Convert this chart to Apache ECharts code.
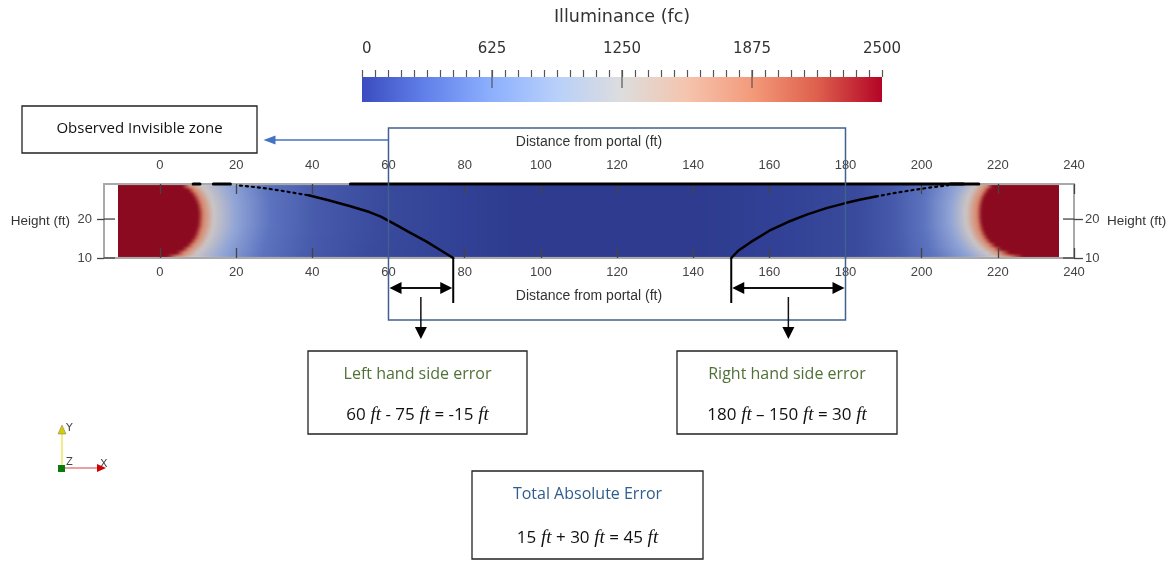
<!DOCTYPE html>
<html>
<head>
<meta charset="utf-8">
<script src="https://cdn.jsdelivr.net/npm/echarts@6.0.0/dist/echarts.min.js"></script>
<style>
  html, body { margin: 0; padding: 0; background: #fff; }
  #wrap { position: relative; width: 1175px; height: 561px; }
  #fieldClip { position: absolute; overflow: hidden; }
  #field { position: absolute; width: 1175px; height: 561px; filter: blur(1.3px); }
  #chart { position: absolute; left: 0; top: 0; width: 1175px; height: 561px; }
</style>
</head>
<body>
<div id="wrap">
  <div id="fieldClip"><div id="field"></div></div>
  <div id="chart"></div>
</div>
<script>
// ---- data ----
var distanceTicks = [0, 20, 40, 60, 80, 100, 120, 140, 160, 180, 200, 220, 240];
var heightTicks = [10, 20];
var illumRange = [0, 2500];
var illumLongTicks = [625, 1250, 1875];
var fieldExtent = [-11, 236];               // ft, where the coloured tunnel starts / ends
var bandEdges = [10, 11, 12, 13, 14, 15, 16, 17, 18, 19, 20, 21, 22, 23, 24, 25, 26, 27, 28, 29];
var isoLevels = [2500, 1900, 1250, 800, 400, 200, 100, 40, 10]; // fc
// x (ft) where each iso level is reached, one row per 1 ft height band (bottom to top), left portal
var leftIsolines = [
  [2.5, 5.0, 9.5, 17, 27, 40, 55, 75, 95],
  [5.0, 7.0, 10.5, 17.5, 27.5, 40, 55, 75, 95],
  [6.5, 8.3, 11.5, 18, 28, 41, 56, 75, 95],
  [7.7, 9.4, 12.3, 18.5, 28, 41, 56, 75, 95],
  [8.6, 10.2, 13, 19, 28.5, 41, 57, 75, 95],
  [9.3, 10.9, 13.5, 19.5, 28.5, 41.5, 57, 75, 95],
  [9.8, 11.3, 14, 20, 29, 42, 57, 75, 95],
  [10.1, 11.6, 14.3, 20.3, 29, 42, 58, 75, 95],
  [10.4, 11.9, 14.5, 20.5, 29.5, 42, 58, 75, 95],
  [10.5, 12, 14.6, 20.5, 29.5, 42, 58, 75, 95],
  [10.6, 12.1, 14.7, 20.5, 29.5, 42, 58, 75, 95],
  [10.6, 12.1, 14.7, 20.5, 29.5, 42, 58, 75, 95],
  [10.5, 12, 14.6, 20.5, 29.5, 42, 58, 75, 95],
  [10.3, 11.8, 14.4, 20.5, 29.5, 42, 58, 75, 95],
  [10.0, 11.5, 14.2, 20.3, 29.5, 42, 58, 75, 95],
  [9.5, 11.1, 13.8, 20, 29.5, 42, 58, 75, 95],
  [8.9, 10.5, 13.3, 19.8, 29, 42, 58, 75, 95],
  [8.0, 9.7, 12.6, 19.5, 29, 42, 58, 75, 95],
  [6.5, 8.4, 11.6, 19, 28.5, 42, 58, 75, 95]
];
// same for the right portal (x decreasing)
var rightIsolines = [
  [226, 222.5, 218, 212, 202.5, 193, 183, 168, 140],
  [222.5, 220, 216.5, 211, 202, 193, 183, 168, 140],
  [220.3, 218.3, 215, 210, 201.5, 193, 183, 168, 140],
  [218.8, 217, 214, 209.3, 201, 192.5, 183, 168, 140],
  [217.6, 216, 213.2, 208.7, 201, 192.5, 183, 168, 140],
  [216.8, 215.3, 212.5, 208.2, 200.5, 192, 183, 168, 140],
  [216.2, 214.8, 212, 207.8, 200.5, 192, 183, 168, 140],
  [215.8, 214.4, 211.6, 207.5, 200, 192, 183, 168, 140],
  [215.5, 214.2, 211.3, 207.2, 200, 192, 183, 168, 140],
  [215.3, 214, 211.1, 207, 200, 192, 183, 168, 140],
  [215.2, 213.9, 211, 207, 200, 192, 183, 168, 140],
  [215.2, 213.9, 211, 207, 200, 192, 183, 168, 140],
  [215.2, 213.9, 211, 207, 200, 192, 183, 168, 140],
  [215.3, 214, 211.1, 207, 200, 192, 183, 168, 140],
  [215.5, 214.2, 211.3, 207.2, 200, 192, 183, 168, 140],
  [215.8, 214.5, 211.6, 207.5, 200, 192, 183, 168, 140],
  [216.3, 215, 212, 207.8, 200.5, 192, 183, 168, 140],
  [217, 215.6, 212.6, 208.2, 200.5, 192, 183, 168, 140],
  [218, 216.5, 213.3, 208.6, 201, 192, 183, 168, 140]
];
// black threshold line (distance ft, height ft)
var leftCurveDotted = [[21, 28.6], [27, 28.0], [33, 27.1], [39, 26.1]];
var leftCurve = [[39, 26.1], [44, 24.9], [50, 23.3], [55, 21.8], [58, 20.6], [62, 18.5], [66, 16.3], [70, 14.2], [74, 11.8], [77, 10]];
var rightCurve = [[150, 10], [152, 12], [155, 14], [160, 17], [165, 19.3], [170, 21.2], [175, 22.8], [180, 24.1], [184, 25], [188, 25.8]];
var rightCurveDotted = [[188, 25.8], [193, 26.7], [198, 27.5], [203, 28.2], [207, 28.7]];
var ceilingLine = [[50, 29], [215, 29]];
var ceilingDashes = [[[8.7, 29], [10.5, 29]], [[14, 29], [18.5, 29]], [[207.5, 29], [211, 29]]];
// observed invisible zone and detected ends (ft)
var invisibleZone = [60, 180];
var detectedEnds = [77, 150];

// ---- styling ----
var levelColors = ['#8b0a1f', '#d8866a', '#cbc5c5', '#90a4d6', '#5c73bf', '#4659aa', '#3a4b9d', '#334397', '#2e3b8f'];
var coolWarm = ['#3b4cc0', '#6282ea', '#8db0fe', '#b8d0f9', '#dddddd', '#f5c4ad', '#f49a7b', '#de604d', '#b40426'];
var tickFont = 'Liberation Sans';
var titleFont = 'DejaVu Sans';
var boxFont = 'Open Sans';
var mainGrid = { left: 104, top: 184, width: 970, height: 74 };
var distRange = [-14.7, 240];
var heightRange = [10, 29];

var fieldChart = echarts.init(document.getElementById('field'));
var chart = echarts.init(document.getElementById('chart'));

function curveSeries(data, dotted, width) {
  return {
    type: 'line', xAxisIndex: 0, yAxisIndex: 0, data: data, showSymbol: false, symbol: 'none',
    clip: false, silent: true, z: 5,
    lineStyle: { color: '#000', width: width || 2.5, type: dotted ? [2, 4] : 'solid', cap: 'round' }
  };
}

function arrowHead(tipX, tipY, dir, len, half, color) {
  var pts;
  if (dir === 'left') pts = [[tipX, tipY], [tipX + len, tipY - half], [tipX + len, tipY + half]];
  else if (dir === 'right') pts = [[tipX, tipY], [tipX - len, tipY - half], [tipX - len, tipY + half]];
  else if (dir === 'down') pts = [[tipX, tipY], [tipX - half, tipY - len], [tipX + half, tipY - len]];
  else pts = [[tipX, tipY], [tipX - half, tipY + len], [tipX + half, tipY + len]];
  return { type: 'polygon', shape: { points: pts }, style: { fill: color } };
}

// illuminance field: one horizontal band per height, coloured at the iso positions
var fieldData = bandEdges.slice(0, -1).map(function (h, i) { return [h, bandEdges[i + 1], i]; });

fieldChart.setOption({
  animation: false,
  grid: mainGrid,
  xAxis: { type: 'value', min: distRange[0], max: distRange[1], show: false },
  yAxis: { type: 'value', min: heightRange[0], max: heightRange[1], show: false },
  series: [{
    type: 'custom', silent: true,
    data: fieldData,
    renderItem: function (params, api) {
      var i = api.value(2);
      var p0 = api.coord([fieldExtent[0], api.value(1)]);
      var p1 = api.coord([fieldExtent[1], api.value(0)]);
      var w = p1[0] - p0[0];
      function off(x) { return Math.min(1, Math.max(0, (api.coord([x, 20])[0] - p0[0]) / w)); }
      var stops = [{ offset: 0, color: levelColors[0] }];
      leftIsolines[i].forEach(function (x, k) { stops.push({ offset: off(x), color: levelColors[k] }); });
      for (var k = rightIsolines[i].length - 1; k >= 0; k--) {
        stops.push({ offset: off(rightIsolines[i][k]), color: levelColors[k] });
      }
      stops.push({ offset: 1, color: levelColors[0] });
      return {
        type: 'rect',
        shape: { x: p0[0] - 3, y: p0[1] - 0.6, width: w + 6, height: p1[1] - p0[1] + 1.2 },
        style: { fill: new echarts.graphic.LinearGradient(0, 0, 1, 0, stops) }
      };
    }
  }]
});

// clip the softened field layer to the tunnel rectangle
(function () {
  var a = fieldChart.convertToPixel({ gridIndex: 0 }, [fieldExtent[0], heightRange[1]]);
  var b = fieldChart.convertToPixel({ gridIndex: 0 }, [fieldExtent[1], heightRange[0]]);
  var clip = document.getElementById('fieldClip');
  var fld = document.getElementById('field');
  var l = Math.round(a[0]), t = Math.round(a[1]);
  clip.style.left = l + 'px'; clip.style.top = t + 'px';
  clip.style.width = (Math.round(b[0]) - l) + 'px'; clip.style.height = (Math.round(b[1]) - t) + 'px';
  fld.style.left = -l + 'px'; fld.style.top = -t + 'px';
})();

var series = [
  curveSeries(ceilingLine, false, 3),
  curveSeries(ceilingDashes[0], false, 3),
  curveSeries(ceilingDashes[1], false, 3),
  curveSeries(ceilingDashes[2], false, 3),
  curveSeries(leftCurveDotted, true, 2.2),
  curveSeries(leftCurve, false, 2.5),
  curveSeries(rightCurve, false, 2.5),
  curveSeries(rightCurveDotted, true, 2.2),
  {
    // height ticks reaching into the plot on both sides
    type: 'custom', xAxisIndex: 0, yAxisIndex: 0, silent: true, clip: false, z: 4,
    data: heightTicks.map(function (h) { return [distRange[0], h]; }),
    renderItem: function (params, api) {
      var cs = params.coordSys;
      var y = api.coord([api.value(0), api.value(1)])[1];
      var st = { stroke: '#444', lineWidth: 1.3 };
      return { type: 'group', children: [
        { type: 'line', shape: { x1: cs.x, y1: y, x2: cs.x + 11, y2: y }, style: st },
        { type: 'line', shape: { x1: cs.x + cs.width - 11, y1: y, x2: cs.x + cs.width, y2: y }, style: st }
      ] };
    }
  },
  {
    type: 'custom', xAxisIndex: 0, yAxisIndex: 0, silent: true, clip: false, z: 6,
    data: [[invisibleZone[0], invisibleZone[1], detectedEnds[0], detectedEnds[1]]],
    renderItem: function (params, api) {
      var cs = params.coordSys;
      var top = cs.y, bottom = cs.y + cs.height;
      var zx0 = api.coord([api.value(0), 10])[0];
      var zx1 = api.coord([api.value(1), 10])[0];
      var ex0 = api.coord([api.value(2), 10])[0];
      var ex1 = api.coord([api.value(3), 10])[0];
      var dimY = bottom + 30;
      var ch = [];
      // frame of the observed invisible zone
      ch.push({ type: 'rect', shape: { x: zx0, y: top - 56, width: zx1 - zx0, height: bottom - top + 118 },
        style: { fill: 'none', stroke: '#40608f', lineWidth: 1.5 } });
      // blue pointer to label box
      ch.push({ type: 'line', shape: { x1: zx0, y1: top - 44, x2: zx0 - 114, y2: top - 44 },
        style: { stroke: '#4472c4', lineWidth: 1.5 } });
      ch.push(arrowHead(zx0 - 125, top - 44, 'left', 12, 4.5, '#4472c4'));
      // detected ends
      [ex0, ex1].forEach(function (x) {
        ch.push({ type: 'line', shape: { x1: x, y1: bottom, x2: x, y2: bottom + 45 },
          style: { stroke: '#000', lineWidth: 2 } });
      });
      // dimension arrows
      [[zx0, ex0], [ex1, zx1]].forEach(function (s) {
        ch.push({ type: 'line', shape: { x1: s[0] + 8, y1: dimY, x2: s[1] - 8, y2: dimY },
          style: { stroke: '#111', lineWidth: 2 } });
        ch.push(arrowHead(s[0] + 1, dimY, 'left', 12, 6, '#000'));
        ch.push(arrowHead(s[1] - 1, dimY, 'right', 12, 6, '#000'));
        var mx = (s[0] + s[1]) / 2;
        ch.push({ type: 'line', shape: { x1: mx, y1: dimY + 9, x2: mx, y2: dimY + 40 },
          style: { stroke: '#111', lineWidth: 1.5 } });
        ch.push(arrowHead(mx, dimY + 51, 'down', 12, 6, '#000'));
      });
      return { type: 'group', children: ch };
    }
  },
  {
    type: 'custom', xAxisIndex: 2, yAxisIndex: 2, silent: true, z: 1,
    data: [illumRange],
    renderItem: function (params, api) {
      var p0 = api.coord([api.value(0), 1]);
      var p1 = api.coord([api.value(1), 0]);
      var stops = coolWarm.map(function (c, i) { return { offset: i / (coolWarm.length - 1), color: c }; });
      return { type: 'rect', shape: { x: p0[0], y: p0[1], width: p1[0] - p0[0], height: p1[1] - p0[1] },
        style: { fill: new echarts.graphic.LinearGradient(0, 0, 1, 0, stops) } };
    }
  },
  {
    // long colour bar ticks
    type: 'custom', xAxisIndex: 2, yAxisIndex: 2, silent: true, clip: false, z: 3,
    data: illumLongTicks.map(function (v) { return [v, 1]; }),
    renderItem: function (params, api) {
      var cs = params.coordSys;
      var x = api.coord([api.value(0), 1])[0];
      return { type: 'line', shape: { x1: x, y1: cs.y - 7, x2: x, y2: cs.y + 11 },
        style: { stroke: '#555', lineWidth: 1.2 } };
    }
  }
];

var hiddenLine = { show: true, onZero: false, lineStyle: { color: 'rgba(0,0,0,0)', width: 0 } };

function distAxis(pos, margin, gap) {
  return {
    type: 'value', gridIndex: 0, position: pos, min: distRange[0], max: distRange[1],
    axisLine: { show: true, onZero: false, lineStyle: { color: '#a9a9a9', width: 2 } },
    axisTick: { show: true, inside: true, length: 10, customValues: distanceTicks, lineStyle: { color: '#444', width: 1.3 } },
    axisLabel: { customValues: distanceTicks, margin: margin, color: '#444', fontSize: 13, fontFamily: tickFont },
    splitLine: { show: false },
    name: 'Distance from portal (ft)', nameLocation: 'middle', nameGap: gap,
    nameTextStyle: { color: '#333', fontSize: 14, fontFamily: tickFont }
  };
}

function heightAxis(pos, margin, gap, tickLen) {
  return {
    type: 'value', gridIndex: 0, position: pos, min: heightRange[0], max: heightRange[1],
    axisLine: { show: true, onZero: false, lineStyle: { color: '#a9a9a9', width: 2 } },
    axisTick: { show: true, length: tickLen, customValues: heightTicks, lineStyle: { color: '#444', width: 1.3 } },
    axisLabel: { customValues: heightTicks, margin: margin, color: '#444', fontSize: 13, fontFamily: tickFont },
    splitLine: { show: false },
    name: 'Height (ft)', nameLocation: 'middle', nameRotate: 0, nameGap: gap,
    nameTextStyle: { color: '#333', fontSize: 13.5, fontFamily: tickFont }
  };
}

function textBox(x, y, w, h, lines) {
  var els = [{ type: 'rect', shape: { x: x, y: y, width: w, height: h },
    style: { fill: '#fff', stroke: '#222', lineWidth: 1.3 }, z: 10 }];
  lines.forEach(function (l) {
    els.push({ type: 'text', x: x + w / 2, y: l.y, z: 11,
      style: { text: l.text, fill: l.color || '#111', fontSize: l.size || 16, fontFamily: boxFont,
        align: 'center', verticalAlign: 'middle',
        rich: { i: { fontStyle: 'italic', fontFamily: 'Liberation Serif', fontSize: 19, fill: '#111' } } } });
  });
  return els;
}

var graphics = [].concat(
  textBox(22, 106, 235, 47, [{ text: 'Observed Invisible zone', y: 129, size: 15 }]),
  textBox(308, 351, 219, 83, [
    { text: 'Left hand side error', y: 374, color: '#4f7136' },
    { text: '60{i| ft} - 75{i| ft} = -15{i| ft}', y: 415, size: 17 }]),
  textBox(677, 351, 220, 83, [
    { text: 'Right hand side error', y: 374, color: '#4f7136' },
    { text: '180{i| ft} \u2013 150{i| ft} = 30{i| ft}', y: 415, size: 17 }]),
  textBox(472, 471, 231, 88, [
    { text: 'Total Absolute Error', y: 494, color: '#2f5d8c' },
    { text: '15{i| ft} + 30{i| ft} = 45{i| ft}', y: 538, size: 17 }]),
  [
    // orientation triad
    { type: 'line', shape: { x1: 62, y1: 468, x2: 62, y2: 432 }, style: { stroke: '#f2ee8a', lineWidth: 2 } },
    { type: 'polygon', shape: { points: [[62, 425], [58, 434], [66, 434]] }, style: { fill: '#d8cc00', stroke: '#777', lineWidth: 0.5 } },
    { type: 'line', shape: { x1: 62, y1: 468, x2: 99, y2: 468 }, style: { stroke: '#e08080', lineWidth: 1.5 } },
    { type: 'polygon', shape: { points: [[106, 468], [97, 464], [97, 472]] }, style: { fill: '#d00000' } },
    { type: 'rect', shape: { x: 58, y: 465, width: 7, height: 7 }, style: { fill: '#0a7a0a' } },
    { type: 'text', x: 66, y: 428, style: { text: 'Y', fill: '#444', fontSize: 11, fontFamily: titleFont, verticalAlign: 'middle' } },
    { type: 'text', x: 100, y: 464, style: { text: 'X', fill: '#444', fontSize: 11, fontFamily: titleFont, verticalAlign: 'middle' } },
    { type: 'text', x: 66, y: 462, style: { text: 'Z', fill: '#444', fontSize: 10, fontFamily: titleFont, verticalAlign: 'middle' } }
  ]
);

chart.setOption({
  backgroundColor: 'transparent',
  animation: false,
  grid: [
    mainGrid,
    { left: 362, top: 77, width: 520, height: 25 }
  ],
  xAxis: [
    distAxis('bottom', 8, 31),
    distAxis('top', 12, 35),
    {
      type: 'value', gridIndex: 1, position: 'top', min: illumRange[0], max: illumRange[1], interval: 625,
      axisLine: hiddenLine,
      axisTick: { show: true, length: 7, lineStyle: { color: '#555', width: 1.2 } },
      minorTick: { show: true, splitNumber: 10, length: 7, lineStyle: { color: '#555', width: 1.2 } },
      axisLabel: { margin: 20, color: '#333', fontSize: 15, fontFamily: titleFont, alignMinLabel: 'left',
        formatter: function (v) { return String(v); } },
      splitLine: { show: false },
      name: 'Illuminance (fc)', nameLocation: 'middle', nameGap: 51,
      nameTextStyle: { color: '#333', fontSize: 17.5, fontFamily: titleFont }
    }
  ],
  yAxis: [
    heightAxis('left', 12, 34, 7),
    heightAxis('right', 11, 33, 9),
    { type: 'value', gridIndex: 1, min: 0, max: 1, show: false }
  ],
  series: series,
  graphic: graphics
});
</script>
</body>
</html>
